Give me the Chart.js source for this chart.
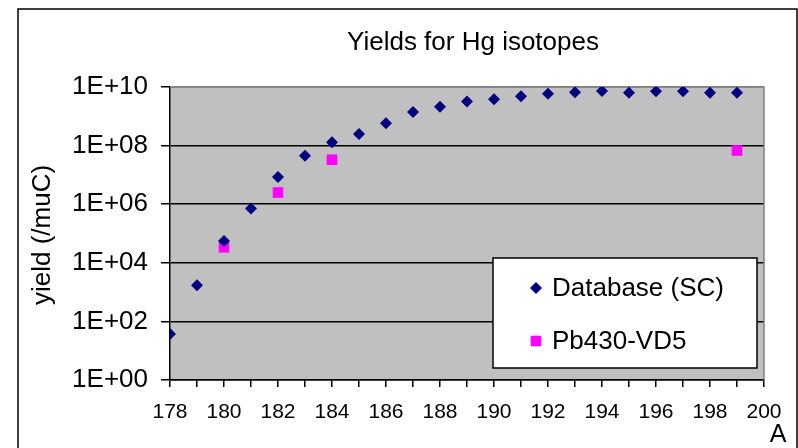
<!DOCTYPE html>
<html>
<head>
<meta charset="utf-8">
<title>Yields for Hg isotopes</title>
<script src="https://cdn.jsdelivr.net/npm/chart.js@4/dist/chart.umd.min.js"></script>
<style>
  html, body { margin: 0; padding: 0; background: #fff; }
  #wrap { width: 798px; height: 448px; position: relative; }
</style>
</head>
<body>
<div id="wrap"><canvas id="yieldChart" width="798" height="448"></canvas></div>
<script>
/* Hg isotope yields per muC: database values vs. Pb430-VD5 measurements. */
const FONT = "'Liberation Sans', Arial, sans-serif";

const massNumbers = [178, 179, 180, 181, 182, 183, 184, 185, 186, 187, 188,
  189, 190, 191, 192, 193, 194, 195, 196, 197, 198, 199];
const databaseYields = [37, 1.7e3, 5.5e4, 7.2e5, 8.5e6, 4.5e7, 1.3e8, 2.5e8,
  5.8e8, 1.4e9, 2.1e9, 3.2e9, 3.8e9, 4.8e9, 5.9e9, 6.6e9, 7.3e9, 6.4e9,
  7.1e9, 7.1e9, 6.4e9, 6.4e9];

const pbMassNumbers = [180, 182, 184, 199];
const pbYields = [3.4e4, 2.5e6, 3.3e7, 6.8e7];

const yTickValues = [1, 1e2, 1e4, 1e6, 1e8, 1e10];
const seriesNames = ["Database (SC)", "Pb430-VD5"];

const COLORS = {
  database: "#000080",
  pb: "#ff00ff",
  plotBg: "#c0c0c0",
  plotEdge: "#808080",
};

function toPoints(xs, ys) {
  return xs.map((x, i) => ({ x, y: ys[i] }));
}

function expLabel(value) {
  const exp = Math.round(Math.log10(value));
  return "1E+" + String(exp).padStart(2, "0");
}

// grey plot area, gray top/right edges, outer frame, titles and legend box
const chartDecor = {
  id: "chartDecor",
  beforeDraw(chart) {
    const { ctx, chartArea: a } = chart;
    ctx.save();
    ctx.fillStyle = COLORS.plotBg;
    ctx.fillRect(a.left, a.top, a.right - a.left, a.bottom - a.top);
    ctx.restore();
  },
  beforeDatasetsDraw(chart) {
    const { ctx, chartArea: a } = chart;
    ctx.save();
    ctx.strokeStyle = COLORS.plotEdge;
    ctx.lineWidth = 1.5;
    ctx.beginPath();
    ctx.moveTo(a.left, a.top);
    ctx.lineTo(a.right, a.top);
    ctx.lineTo(a.right, a.bottom);
    ctx.stroke();
    ctx.restore();
  },
  afterDraw(chart) {
    const { ctx } = chart;
    ctx.save();

    // outer frame
    ctx.strokeStyle = "#000";
    ctx.lineWidth = 1.5;
    ctx.strokeRect(18, 9, 779, 460);

    ctx.fillStyle = "#000";
    ctx.font = "26px " + FONT;
    ctx.textAlign = "center";
    ctx.textBaseline = "alphabetic";
    ctx.fillText("Yields for Hg isotopes", 473, 50);

    ctx.font = "25px " + FONT;
    ctx.fillText("A", 778, 442);

    ctx.save();
    ctx.translate(50, 235);
    ctx.rotate(-Math.PI / 2);
    ctx.font = "26px " + FONT;
    ctx.fillText("yield (/muC)", 0, 0);
    ctx.restore();

    // legend
    const box = { x: 493, y: 258, w: 264, h: 110 };
    ctx.fillStyle = "#fff";
    ctx.fillRect(box.x, box.y, box.w, box.h);
    ctx.strokeStyle = "#000";
    ctx.lineWidth = 1.5;
    ctx.strokeRect(box.x, box.y, box.w, box.h);

    const rows = [288, 341];
    chart.data.datasets.forEach((ds, i) => {
      const style = {
        pointStyle: ds.pointStyle,
        radius: ds.pointRadius,
        rotation: 0,
        borderWidth: 0,
      };
      ctx.fillStyle = ds.backgroundColor;
      ctx.strokeStyle = ds.backgroundColor;
      Chart.helpers.drawPoint(ctx, style, 536, rows[i]);
      ctx.fillStyle = "#000";
      ctx.font = "26px " + FONT;
      ctx.textAlign = "left";
      ctx.textBaseline = "middle";
      ctx.fillText(ds.label, 552, rows[i] + 1);
    });

    ctx.restore();
  },
};

const canvas = document.getElementById("yieldChart");
new Chart(canvas, {
  type: "scatter",
  data: {
    datasets: [
      {
        label: seriesNames[0],
        data: toPoints(massNumbers, databaseYields),
        pointStyle: "rectRot",
        pointRadius: 6,
        pointHoverRadius: 6,
        backgroundColor: COLORS.database,
        borderColor: COLORS.database,
        borderWidth: 0,
      },
      {
        label: seriesNames[1],
        data: toPoints(pbMassNumbers, pbYields),
        pointStyle: "rect",
        pointRadius: 7.5,
        pointHoverRadius: 7.5,
        backgroundColor: COLORS.pb,
        borderColor: COLORS.pb,
        borderWidth: 0,
      },
    ],
  },
  options: {
    responsive: false,
    animation: false,
    devicePixelRatio: 1,
    layout: { padding: { top: 87, right: 34, left: 0, bottom: 0 } },
    plugins: {
      legend: { display: false },
      title: { display: false },
      tooltip: { enabled: false },
    },
    scales: {
      x: {
        type: "linear",
        min: 178,
        max: 200,
        afterFit(scale) { scale.height = 68; },
        border: { display: true, color: "#000", width: 1.5 },
        grid: {
          drawOnChartArea: false,
          drawTicks: true,
          tickLength: 7,
          color: "#000",
          lineWidth: 1.5,
        },
        ticks: {
          stepSize: 1,
          autoSkip: false,
          maxRotation: 0,
          padding: 13,
          color: "#000",
          font: { family: FONT, size: 21 },
          callback: (v) => (v % 2 === 0 ? String(v) : ""),
        },
      },
      y: {
        type: "logarithmic",
        min: 1,
        max: 1e10,
        afterFit(scale) { scale.width = 170; },
        afterBuildTicks(scale) {
          scale.ticks = yTickValues.map((value) => ({ value }));
        },
        border: { display: true, color: "#000", width: 1.5 },
        grid: {
          drawTicks: true,
          tickLength: 9,
          lineWidth: 1.5,
          color: (ctx) => (ctx.tick && ctx.tick.value === 1e10 ? COLORS.plotEdge : "#000"),
          tickColor: "#000",
        },
        ticks: {
          padding: 13,
          color: "#000",
          font: { family: FONT, size: 26 },
          callback: (v) => expLabel(v),
        },
      },
    },
  },
  plugins: [chartDecor],
});
</script>
</body>
</html>
